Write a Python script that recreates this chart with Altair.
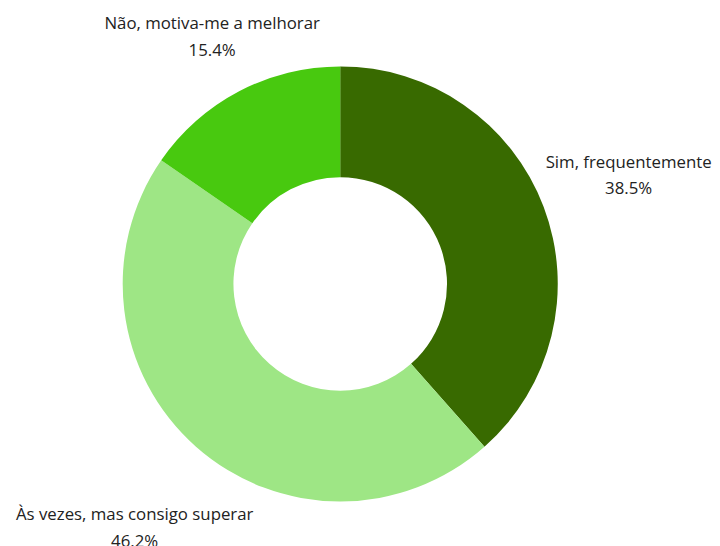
import altair as alt
import pandas as pd

categories = ["Sim, frequentemente", "Às vezes, mas consigo superar", "Não, motiva-me a melhorar"]
percentages = [38.5, 46.2, 15.4]
colors = ["#386a00", "#9ee685", "#48c90f"]

df = pd.DataFrame({
    "cat": categories,
    "pct": percentages,
    "order": list(range(len(categories))),
})
df["label"] = df["cat"] + "\n" + df["pct"].map(lambda v: f"{v:.1f}%")

cx, cy = 336, 276

base = alt.Chart(df).encode(
    theta=alt.Theta("pct:Q", stack=True),
    order=alt.Order("order:Q"),
)

arc = base.mark_arc(outerRadius=220, innerRadius=108).encode(
    color=alt.Color("cat:N", scale=alt.Scale(domain=categories, range=colors), legend=None),
    x=alt.value(cx),
    y=alt.value(cy),
)

# radius, dx, dy per label
placement = {
    categories[0]: (312, 0, -12),
    categories[1]: (318, 3, -4),
    categories[2]: (283, 2, -12),
}
layers = [arc]
for c, (r, dx, dy) in placement.items():
    layers.append(
        base.mark_text(radius=r, dx=dx, dy=dy, font="Open Sans", fontSize=17, color="#222222",
                       lineBreak="\n", lineHeight=27, align="center", baseline="middle")
        .encode(text="label:N", x=alt.value(cx), y=alt.value(cy),
                opacity=alt.condition(alt.datum.cat == c, alt.value(1), alt.value(0)))
    )

chart = alt.layer(*layers).properties(
    width=712, height=538, padding=0, autosize=alt.AutoSizeParams(type="none")
).configure_view(stroke=None)

chart.save("out.html", embed_options={"renderer": "svg", "actions": False})
